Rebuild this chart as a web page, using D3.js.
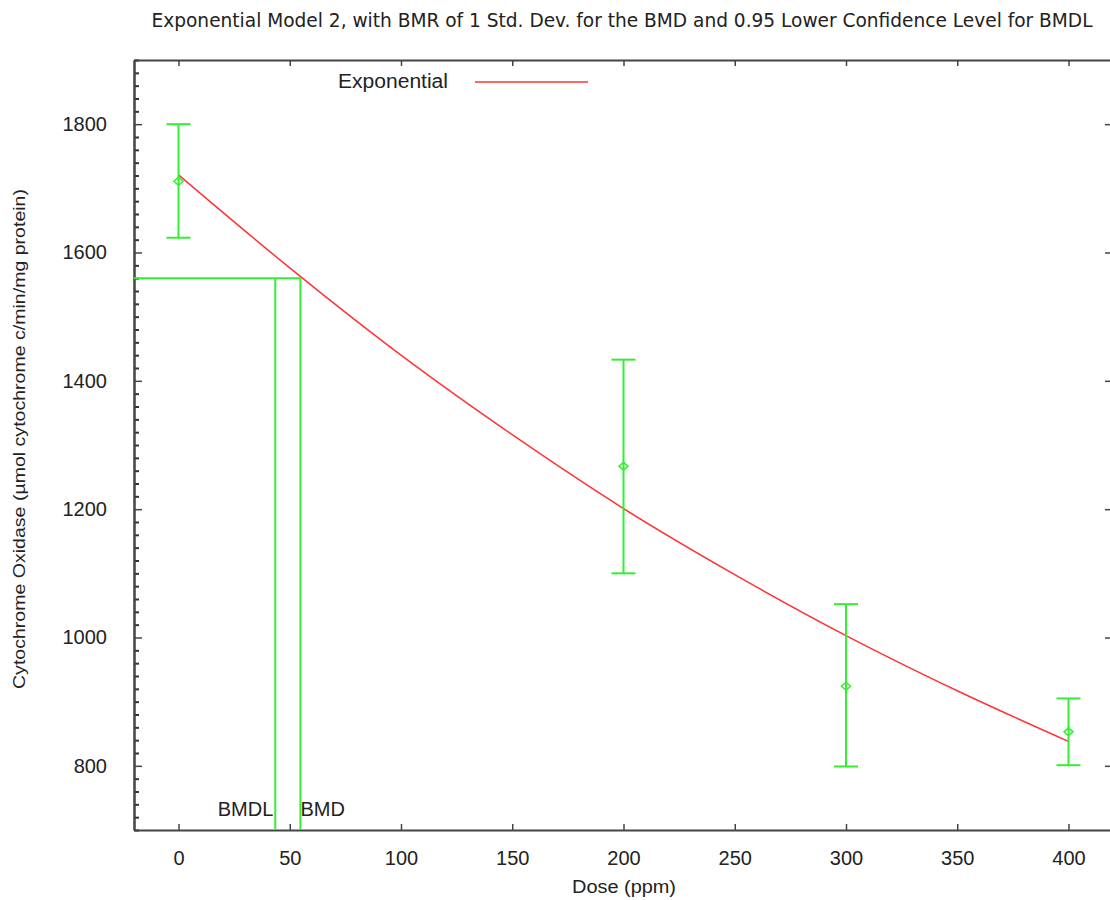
<!DOCTYPE html>
<html>
<head>
<meta charset="utf-8">
<script src="https://cdn.jsdelivr.net/npm/d3@7"></script>
<style>
	body { margin: 0; background: #fff; }
	text { font-family: "Liberation Sans", Arial, sans-serif; fill: #222; }
</style>
</head>
<body>
<div id="chart"></div>
<script>
// observed data: dose, mean and error bar ends
const doses = [0, 200, 300, 400];
const means = [1711, 1267, 924, 853];
const lower = [1623, 1100, 799, 801];
const upper = [1800, 1433, 1052, 905];

// fitted exponential curve
const curveDose = [0, 50, 100, 150, 200, 250, 300, 350, 400];
const curveResp = [1721, 1576, 1440, 1316, 1201, 1098, 1003, 917, 838];

// benchmark values
const bmd = 54.8;
const bmdl = 43.5;
const bmr = 1560;

const xTicks = [0, 50, 100, 150, 200, 250, 300, 350, 400];
const yTicks = [800, 1000, 1200, 1400, 1600, 1800];
const yMinor = d3.range(700, 1901, 20).filter(v => v % 200 !== 0);

const titleText = "Exponential Model 2, with BMR of 1 Std. Dev. for the BMD and 0.95 Lower Confidence Level for BMDL";
const xLabel = "Dose (ppm)";
const yLabel = "Cytochrome Oxidase (\u00b5mol cytochrome c/min/mg protein)";

const width = 1110, height = 900;
const margin = { top: 60, left: 134, bottom: 70 };
const plotRight = 1113;

const svg = d3.select("#chart").append("svg")
	.attr("width", width)
	.attr("height", height);

const x = d3.scaleLinear().domain([-20, 420]).range([margin.left, plotRight]);
const y = d3.scaleLinear().domain([700, 1900]).range([height - margin.bottom, margin.top]);

const axisColor = "#444";
const green = "#33ee33";

// axes (all ticks point inward)
const gLeftMinor = svg.append("g")
	.attr("class", "minor")
	.attr("transform", "translate(" + margin.left + ",0)")
	.call(d3.axisLeft(y).tickValues(yMinor).tickSize(-5).tickSizeOuter(0).tickFormat(""));
const gLeft = svg.append("g")
	.attr("transform", "translate(" + margin.left + ",0)")
	.call(d3.axisLeft(y).tickValues(yTicks).tickSize(-8).tickSizeOuter(0).tickPadding(27).tickFormat(d3.format("d")));
const gRight = svg.append("g")
	.attr("transform", "translate(" + plotRight + ",0)")
	.call(d3.axisRight(y).tickValues(yTicks).tickSize(-8).tickSizeOuter(0).tickFormat(""));
const gBottom = svg.append("g")
	.attr("transform", "translate(0," + y(700) + ")")
	.call(d3.axisBottom(x).tickValues(xTicks).tickSize(-6).tickSizeOuter(0).tickPadding(21).tickFormat(d3.format("d")));
const gTop = svg.append("g")
	.attr("transform", "translate(0," + y(1900) + ")")
	.call(d3.axisTop(x).tickValues(xTicks).tickSize(-6).tickSizeOuter(0).tickFormat(""));

[gLeftMinor, gLeft, gRight, gBottom, gTop].forEach(g => {
	g.selectAll("path.domain").attr("stroke", axisColor).attr("stroke-width", 2);
	g.selectAll(".tick line").attr("stroke", axisColor).attr("stroke-width", 1.5);
	g.selectAll(".tick text")
		.style("font-size", "20px")
		.style("font-family", "'Liberation Sans', Arial, sans-serif")
		.attr("fill", "#1a1a2e");
});
gLeftMinor.selectAll(".tick line").attr("stroke", "#333").attr("stroke-width", 2);

// title
svg.append("text")
	.attr("x", 622)
	.attr("y", 27)
	.attr("text-anchor", "middle")
	.attr("textLength", 941)
	.attr("lengthAdjust", "spacingAndGlyphs")
	.style("font-family", "'Liberation Sans Narrow', 'DejaVu Sans Condensed', 'Liberation Sans', sans-serif")
	.style("font-size", "20px")
	.text(titleText);

// axis labels
svg.append("text")
	.attr("x", 624)
	.attr("y", 893)
	.attr("text-anchor", "middle")
	.attr("textLength", 104)
	.attr("lengthAdjust", "spacingAndGlyphs")
	.style("font-size", "18px")
	.text(xLabel);

svg.append("text")
	.attr("transform", "translate(25,439) rotate(-90)")
	.attr("text-anchor", "middle")
	.attr("textLength", 500)
	.attr("lengthAdjust", "spacingAndGlyphs")
	.style("font-size", "17px")
	.text(yLabel);

// legend
svg.append("text")
	.attr("x", 338)
	.attr("y", 88)
	.attr("textLength", 110)
	.attr("lengthAdjust", "spacingAndGlyphs")
	.style("font-size", "20px")
	.text("Exponential");
svg.append("line")
	.attr("x1", 475).attr("x2", 588)
	.attr("y1", 82).attr("y2", 82)
	.attr("stroke", "#ff3333")
	.attr("stroke-width", 1.5);

// BMD / BMDL lines
const bmdGroup = svg.append("g")
	.attr("stroke", green)
	.attr("stroke-width", 2)
	.attr("fill", "none");
bmdGroup.append("line")
	.attr("x1", x(-20)).attr("x2", x(bmd))
	.attr("y1", y(bmr)).attr("y2", y(bmr));
bmdGroup.append("line")
	.attr("x1", x(bmdl)).attr("x2", x(bmdl))
	.attr("y1", y(bmr)).attr("y2", y(700));
bmdGroup.append("line")
	.attr("x1", x(bmd)).attr("x2", x(bmd))
	.attr("y1", y(bmr)).attr("y2", y(700));

svg.append("text")
	.attr("x", x(bmdl) - 2)
	.attr("y", 816)
	.attr("text-anchor", "end")
	.style("font-size", "20px")
	.text("BMDL");
svg.append("text")
	.attr("x", x(bmd))
	.attr("y", 816)
	.style("font-size", "20px")
	.text("BMD");

// fitted curve
const line = d3.line()
	.x((d, i) => x(curveDose[i]))
	.y(d => y(d))
	.curve(d3.curveMonotoneX);

svg.append("path")
	.datum(curveResp)
	.attr("d", line)
	.attr("fill", "none")
	.attr("stroke", "#ff3333")
	.attr("stroke-width", 1.5);

// error bars
const bars = svg.append("g")
	.attr("stroke", green)
	.attr("stroke-width", 2)
	.attr("fill", "none");

doses.forEach((d, i) => {
	const cx = x(d);
	bars.append("line")
		.attr("x1", cx).attr("x2", cx)
		.attr("y1", y(lower[i])).attr("y2", y(upper[i]));
	bars.append("line")
		.attr("x1", cx - 12).attr("x2", cx + 12)
		.attr("y1", y(upper[i])).attr("y2", y(upper[i]));
	bars.append("line")
		.attr("x1", cx - 12).attr("x2", cx + 12)
		.attr("y1", y(lower[i])).attr("y2", y(lower[i]));
});

// mean markers (small diamonds)
svg.append("g").selectAll("path")
	.data(doses)
	.enter().append("path")
	.attr("transform", (d, i) => "translate(" + x(d) + "," + y(means[i]) + ")")
	.attr("d", "M0,-4L4.5,0L0,4L-4.5,0Z")
	.attr("fill", "none")
	.attr("stroke", green)
	.attr("stroke-width", 1.5);
</script>
</body>
</html>
